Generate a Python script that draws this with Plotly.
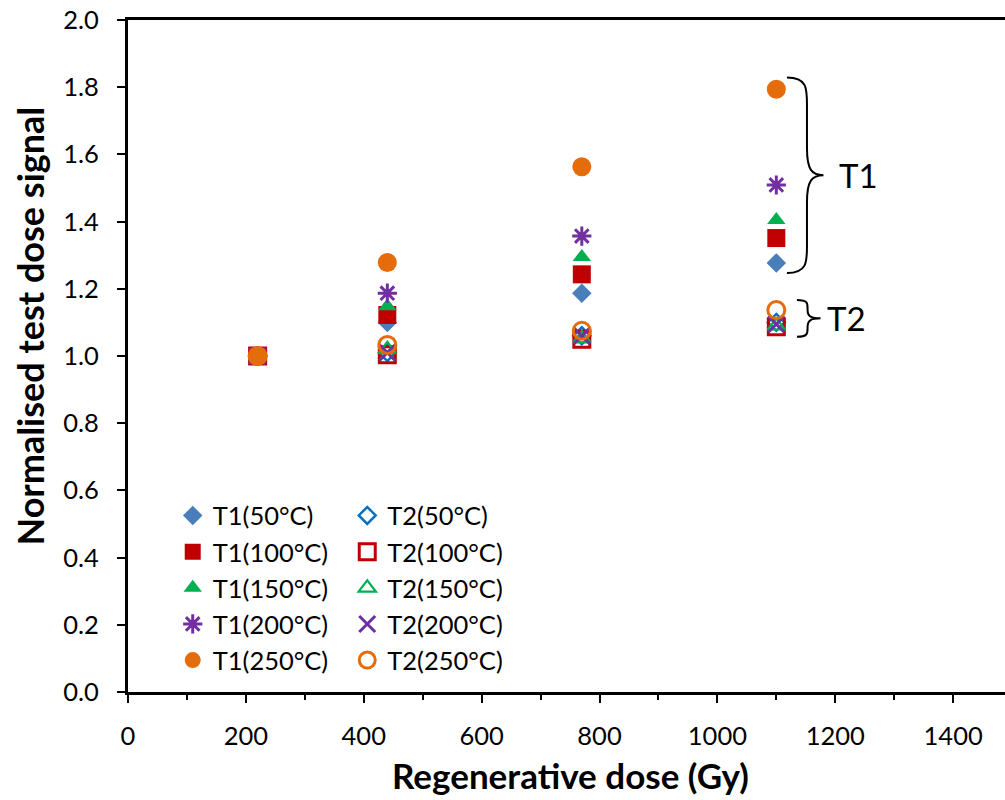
import plotly.graph_objects as go

# ---------------- data ----------------
dose = [220, 440, 770, 1100]

t1_50 = [1.000, 1.100, 1.187, 1.277]
t1_100 = [1.000, 1.122, 1.243, 1.351]
t1_150 = [1.000, 1.148, 1.295, 1.405]
t1_200 = [1.000, 1.187, 1.357, 1.509]
t1_250 = [1.000, 1.278, 1.563, 1.794]

t2_50 = [1.000, 1.010, 1.060, 1.100]
t2_100 = [1.000, 1.004, 1.050, 1.087]
t2_150 = [1.000, 1.020, 1.052, 1.090]
t2_200 = [1.000, 1.010, 1.060, 1.095]
t2_250 = [1.000, 1.033, 1.075, 1.137]

names_t1 = ["T1(50°C)", "T1(100°C)", "T1(150°C)", "T1(200°C)", "T1(250°C)"]
names_t2 = ["T2(50°C)", "T2(100°C)", "T2(150°C)", "T2(200°C)", "T2(250°C)"]

x_ticks = [0, 200, 400, 600, 800, 1000, 1200, 1400]
y_ticks = [0.0, 0.2, 0.4, 0.6, 0.8, 1.0, 1.2, 1.4, 1.6, 1.8, 2.0]

FONT = "Lato"

t1_style = [
    dict(symbol="diamond", size=15, color="#4a7ebb", line=dict(width=0)),
    dict(symbol="square", size=18, color="#c00000", line=dict(width=0)),
    dict(symbol="triangle-up", size=16, color="#00b050", line=dict(width=0)),
    dict(symbol="asterisk-open", size=16, color="#7030a0", line=dict(width=3, color="#7030a0")),
    dict(symbol="circle", size=19, color="#e46c0a", line=dict(width=0)),
]
t2_style = [
    dict(symbol="diamond-open", size=13, color="#0070c0", line=dict(width=2.5, color="#0070c0")),
    dict(symbol="square-open", size=16, color="#c00000", line=dict(width=3, color="#c00000")),
    dict(symbol="triangle-up-open", size=15, color="#00b050", line=dict(width=2.2, color="#00b050")),
    dict(symbol="x-thin-open", size=16, color="#7030a0", line=dict(width=3, color="#7030a0")),
    dict(symbol="circle-open", size=17, color="#e46c0a", line=dict(width=3, color="#e46c0a")),
]

t1_vals = [t1_50, t1_100, t1_150, t1_200, t1_250]
t2_vals = [t2_50, t2_100, t2_150, t2_200, t2_250]

fig = go.Figure()
for i in range(5):
    fig.add_trace(go.Scatter(x=dose, y=t1_vals[i], mode="markers", name=names_t1[i],
                             marker=t1_style[i], legend="legend"))
    fig.add_trace(go.Scatter(x=dose, y=t2_vals[i], mode="markers", name=names_t2[i],
                             marker=t2_style[i], legend="legend2"))

# ---------------- braces (annotations derived from data) ----------------
last = len(dose) - 1
t1_top = max(v[last] for v in t1_vals) + 0.035
t1_bot = min(v[last] for v in t1_vals) - 0.03
t2_top = max(v[last] for v in t2_vals) + 0.03
t2_bot = min(v[last] for v in t2_vals) - 0.03


def brace(x0, xb, xt, top, bot, c):
    mid = (top + bot) / 2
    return (f"M {x0},{top} C {xb},{top} {xb},{top - c * 0.4} {xb},{top - c} "
            f"L {xb},{mid + c} C {xb},{mid + c * 0.2} {xb + (xt - xb) * 0.3},{mid} {xt},{mid} "
            f"C {xb + (xt - xb) * 0.3},{mid} {xb},{mid - c * 0.2} {xb},{mid - c} "
            f"L {xb},{bot + c} C {xb},{bot + c * 0.4} {xb},{bot} {x0},{bot}")


shapes = [
    dict(type="path", xref="x", yref="y", path=brace(1118, 1152, 1180, t1_top, t1_bot, 0.08),
         line=dict(color="black", width=2)),
    dict(type="path", xref="x", yref="y", path=brace(1135, 1153, 1175, t2_top, t2_bot, 0.025),
         line=dict(color="black", width=2)),
]

annotations = [
    dict(x=1203, y=(t1_top + t1_bot) / 2, xref="x", yref="y", text="T1", showarrow=False,
         xanchor="left", yanchor="middle", font=dict(family=FONT, size=33, color="black")),
    dict(x=1183, y=(t2_top + t2_bot) / 2, xref="x", yref="y", text="T2", showarrow=False,
         xanchor="left", yanchor="middle", font=dict(family=FONT, size=33, color="black")),
    dict(x=-0.112, y=0.545, xref="paper", yref="paper", text="<b>Normalised test dose signal</b>",
         textangle=-90, showarrow=False, xanchor="center", yanchor="middle",
         font=dict(family=FONT, size=36, color="black")),
    dict(x=0.504, y=-0.1235, xref="paper", yref="paper", text="<b>Regenerative dose (Gy)</b>",
         showarrow=False, xanchor="center", yanchor="middle",
         font=dict(family=FONT, size=35, color="black")),
]

fig.update_layout(
    width=1005, height=800,
    margin=dict(l=128, r=0, t=20, b=108),
    paper_bgcolor="white", plot_bgcolor="white",
    font=dict(family=FONT, size=25, color="black"),
    shapes=shapes, annotations=annotations,
    legend=dict(x=0.051, y=0.297, xanchor="left", yanchor="top", bgcolor="rgba(0,0,0,0)",
                font=dict(family=FONT, size=25.5), itemwidth=30, tracegroupgap=0),
    legend2=dict(x=0.25, y=0.297, xanchor="left", yanchor="top", bgcolor="rgba(0,0,0,0)",
                 font=dict(family=FONT, size=25.5), itemwidth=30, tracegroupgap=0),
    xaxis=dict(range=[0, 1488], tickvals=x_ticks, ticktext=[str(v) for v in x_ticks],
               showgrid=False, zeroline=False, showline=True, linecolor="black", linewidth=3,
               mirror=True, ticks="outside", ticklen=8, tickwidth=2, tickcolor="black",
               minor=dict(dtick=100, tick0=0, ticks="outside", ticklen=5, tickwidth=2, tickcolor="black"),
               tickfont=dict(family=FONT, size=25.5), ticklabelstandoff=11),
    yaxis=dict(range=[0, 2.0], tickvals=y_ticks, ticktext=[f"{v:.1f}" for v in y_ticks],
               showgrid=False, zeroline=False, showline=True, linecolor="black", linewidth=3,
               ticks="outside", ticklen=8, tickwidth=2, tickcolor="black",
               tickfont=dict(family=FONT, size=25.5), ticklabelstandoff=13),
)

fig.write_html("out.html")
